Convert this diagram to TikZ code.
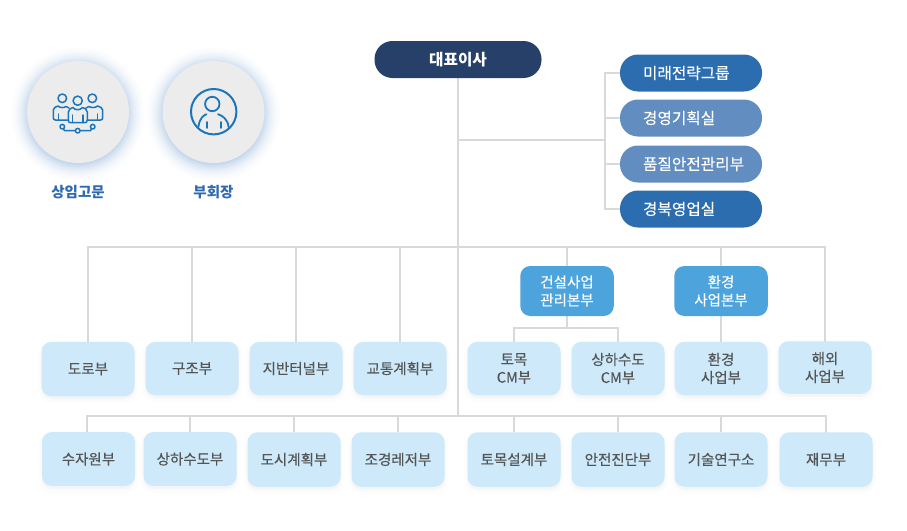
\documentclass[tikz,border=0pt]{standalone}
\usepackage{fontspec}
\setmainfont{Noto Sans CJK KR}[UprightFeatures={FakeBold=0.25}]
\usetikzlibrary{shadows,backgrounds}
\definecolor{linegray}{HTML}{D9D9D9}
\definecolor{navy}{HTML}{264069}
\definecolor{pillblue}{HTML}{2C6DAF}
\definecolor{pilllight}{HTML}{628DC0}
\definecolor{midblue}{HTML}{4DA3DC}
\definecolor{paleblue}{HTML}{CDE9FA}
\definecolor{boxtext}{HTML}{555555}
\definecolor{icon}{HTML}{1B75BB}
\definecolor{labelblue}{HTML}{2E6AB1}
\definecolor{disc}{HTML}{ECECEC}
\definecolor{haloa}{HTML}{C3D6EC}
\tikzset{
  softshadow/.style={
    general shadow={draw=black,fill=black,line width=9pt,opacity=.005,shadow yshift=-3pt},
    general shadow={draw=black,fill=black,line width=6pt,opacity=.007,shadow yshift=-3pt},
    general shadow={draw=black,fill=black,line width=3pt,opacity=.009,shadow yshift=-2pt}},
  glowdisc/.style={circle,fill=disc,minimum size=102pt,inner sep=0pt},
  txt/.style={font=\fontsize{14.5}{18}\selectfont,inner sep=0pt,align=center},
  dept/.style={txt,softshadow,fill=paleblue,text=boxtext,rounded corners=10pt,minimum width=93pt,minimum height=53.5pt},
  hq/.style={txt,fill=midblue,text=white,rounded corners=10pt,minimum width=93.5pt,minimum height=50pt},
  pill/.style={txt,font=\fontsize{15.7}{18}\selectfont,text=white,rounded corners=18pt,text width=142pt,align=left,minimum height=37pt},
  ceo/.style={txt,fill=navy,text=white,font=\fontsize{15.7}{18}\selectfont\bfseries,rounded corners=18pt,minimum width=167pt,minimum height=37pt},
  capt/.style={inner sep=0pt,text=labelblue,font=\fontsize{14.5}{17}\selectfont\bfseries},
  wire/.style={draw=linegray,line width=2pt},
  ico/.style={draw=icon,line width=1.5pt,line join=round,line cap=round},
}
\begin{document}
\begin{tikzpicture}[x=1pt,y=-1pt]
\useasboundingbox (0,0) rectangle (907,530);
% nodes
\node[ceo] (ceo) at (458,59.5) {대표이사};
\node[pill,fill=pillblue] (p1) at (691,73) {\hspace*{23pt}미래전략그룹};
\node[pill,fill=pilllight] (p2) at (691,118) {\hspace*{23pt}경영기획실};
\node[pill,fill=pilllight] (p3) at (691,164) {\hspace*{23pt}품질안전관리부};
\node[pill,fill=pillblue] (p4) at (691,209) {\hspace*{23pt}경북영업실};
\node[hq] (h1) at (567,291) {건설사업\\관리본부};
\node[hq] (h2) at (721,291) {환경\\사업본부};
\node[dept,minimum height=54.5pt] (a1) at (88,369) {도로부};
\node[dept] (a2) at (192,368.5) {구조부};
\node[dept] (a3) at (296,368.5) {지반터널부};
\node[dept] (a4) at (400,368.5) {교통계획부};
\node[dept] (a5) at (514,368.5) {토목\\CM부};
\node[dept] (a6) at (618,368.5) {상하수도\\CM부};
\node[dept] (a7) at (721,368.5) {환경\\사업부};
\node[dept,minimum height=52.5pt] (a8) at (825,367.5) {해외\\사업부};
\node[dept,minimum height=54pt] (b1) at (88.5,459) {수자원부};
\node[dept,minimum height=54pt] (b2) at (190,459) {상하수도부};
\node[dept,minimum height=54.5pt] (b3) at (294,459.5) {도시계획부};
\node[dept,minimum height=54.5pt] (b4) at (398,459.5) {조경레저부};
\node[dept,minimum height=54.5pt] (b5) at (514,459.5) {토목설계부};
\node[dept,minimum height=54.5pt] (b6) at (618,459.5) {안전진단부};
\node[dept,minimum height=54.5pt] (b7) at (721,459.5) {기술연구소};
\node[dept,minimum height=54.5pt] (b8) at (826,459.5) {재무부};
\node[glowdisc] (d1) at (78,112) {};
\node[glowdisc] (d2) at (213.5,112) {};
\node[capt] (c1) at (78,192) {상임고문};
\node[capt] (c2) at (213.5,192) {부회장};
% junctions
\coordinate (tb) at (458,247);
\coordinate (lb) at (458,415.5);
\coordinate (rb) at (458,140);
\coordinate (sp) at (605,140);
\coordinate (h1b) at (567,328);
\coordinate (leftlow) at (87,415.5);
\begin{scope}[on background layer]
\foreach \d in {d1,d2}
  \foreach \r/\m in {67/2,66/4,65/6,64/9,63/12,62/16,61/20,60/25,59/30,58/36,57/42,56/49,55/56,54/64,53/72,52/80,51/90,50/100}
    \fill[haloa!\m!white] ([yshift=-2pt]\d.center) circle (\r);
\draw[wire] (ceo.south) -- (lb);
\draw[wire] (rb) -- (sp);
\draw[wire,line cap=rect] (sp |- p1.west) -- (sp |- p4.west);
\foreach \p in {p1,p2,p3,p4} \draw[wire] (sp |- \p.west) -- (\p.west);
\draw[wire,line cap=rect] (tb -| a1.north) -- (tb -| a8.north) -- (a8.north);
\foreach \n in {a1,a2,a3,a4} \draw[wire] (tb -| \n.north) -- (\n.north);
\draw[wire] (tb -| h1.north) -- (h1.north);
\draw[wire] (tb -| h2.north) -- (h2.north);
\draw[wire] (h1.south) -- (h1b);
\draw[wire,line cap=rect] (a5.north) -- (h1b -| a5.north) -- (h1b -| a6.north) -- (a6.north);
\draw[wire] (h2.south) -- (h2.south |- a7.north);
\draw[wire,line cap=rect] (leftlow) -- (lb -| b8.north) -- (b8.north);
\draw[wire] (leftlow) -- (leftlow |- b1.north);
\foreach \n in {b2,b3,b4,b5,b6,b7} \draw[wire] (lb -| \n.north) -- (\n.north);
\end{scope}
% icon: group
\draw[ico] (62.3,98.3) circle (4.3) (92.3,98.3) circle (4.3) (77.7,100.7) circle (4.6);
\draw[ico,fill=disc] (68.3,120) -- (68.3,112) .. controls (68.3,109) and (71,108.5) .. (73,107.5)
  .. controls (75,110.5) and (80,110.5) .. (82.5,107.5) .. controls (84.5,108.5) and (87.3,109) .. (87.3,112) -- (87.3,120)
  .. controls (87.3,122) and (86,122.7) .. (85,122.7) -- (70.5,122.7) .. controls (69,122.7) and (68.3,122) .. (68.3,120) -- cycle;
\draw[ico] (68.3,120) -- (55.5,120) .. controls (54,120) and (53.3,119) .. (53.3,118) -- (53.3,110) .. controls (53.3,107.5) and (56,107) .. (58,106) .. controls (60,108) and (64,108) .. (66,106.5) -- (69,108);
\draw[ico] (87.3,120) -- (100.5,120) .. controls (102,120) and (102.7,119) .. (102.7,118) -- (102.7,110) .. controls (102.7,107.5) and (100,107) .. (97.5,106) .. controls (95.5,108) and (91,108) .. (89,106.5) -- (86,108);
\draw[ico] (58.5,114) -- (58.5,120) (97.5,114) -- (97.5,120) (72.5,115) -- (72.5,122.5) (83,115) -- (83,122.5);
\draw[ico] (62.3,126.7) circle (2.3) (92.7,126.7) circle (2.3) (77.7,130.7) circle (2.3);
\draw[ico] (63.5,128.7) -- (64.5,130.7) -- (75.4,130.7) (80,130.7) -- (90.5,130.7) -- (91.5,128.7);
% icon: person
\draw[icon,line width=2pt] (213.7,111.7) circle (22.7);
\draw[ico,line width=1.8pt] (212.3,104) circle (7.2);
\draw[ico,line width=1.8pt] (198.5,126.5) .. controls (199.5,118) and (204,115) .. (206.5,114.2)
  (218,114.2) .. controls (222,115.5) and (228,119) .. (228.5,127);
\draw[ico,line width=1.8pt] (206.7,122) -- (206.7,128) (221,122) -- (221,128);
\end{tikzpicture}
\end{document}
